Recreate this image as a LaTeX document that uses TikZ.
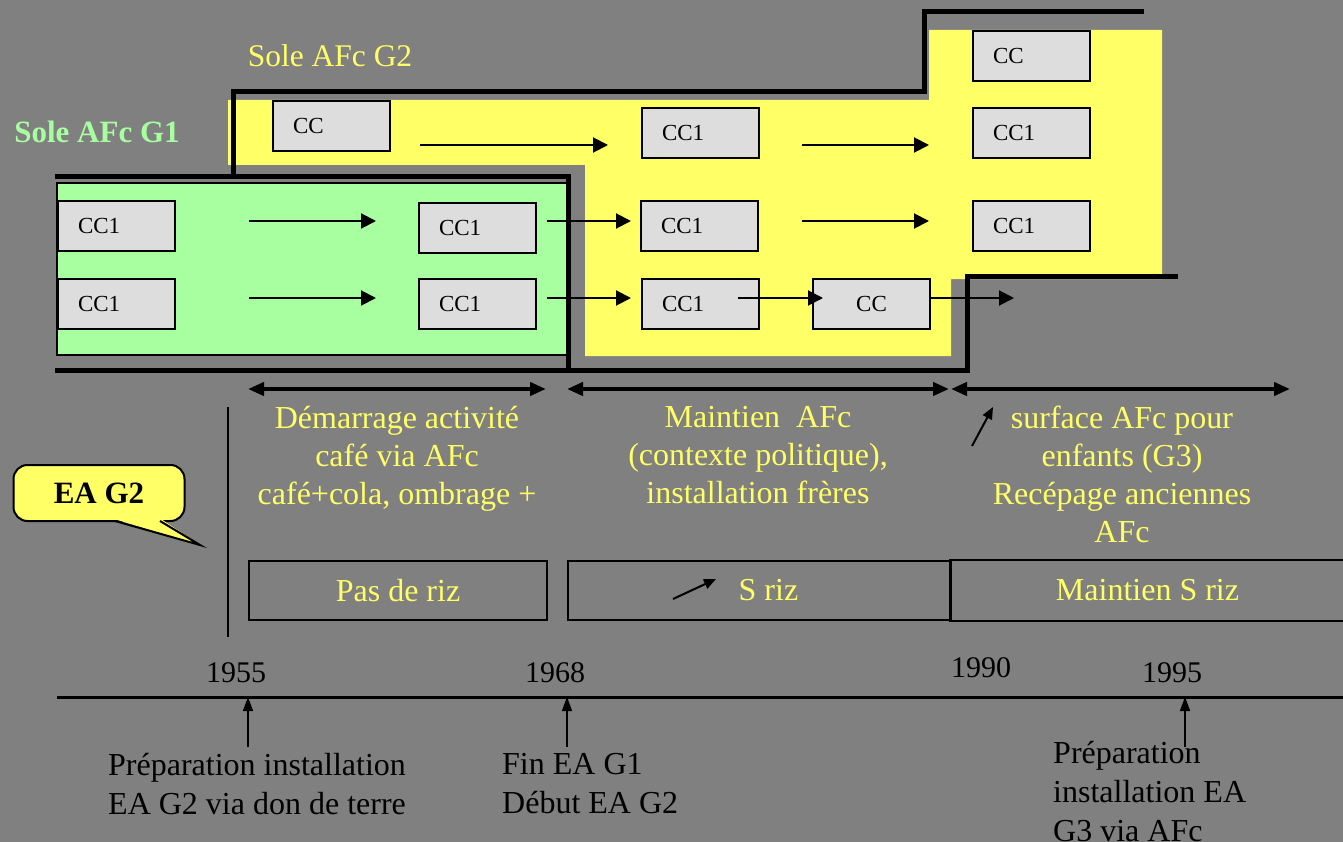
\documentclass[tikz,border=0pt]{standalone}
\usepackage{fontspec}
\setmainfont{Liberation Serif}
\usetikzlibrary{arrows.meta}
\definecolor{bgGray}{HTML}{808080}
\definecolor{soleYellow}{HTML}{FFFF66}
\definecolor{soleGreen}{HTML}{A8FFA0}
\definecolor{ccGray}{HTML}{DDDDDD}

\begin{document}
\begin{tikzpicture}[
    x=1pt, y=-1pt,
    ccbox/.style={rectangle, draw=black, line width=2pt, fill=ccGray,
                  minimum width=117pt, minimum height=50pt, text width=77pt,
                  inner xsep=20pt, align=left, anchor=north west,
                  font=\fontsize{23}{27}\selectfont},
    bound/.style={line width=5pt, line cap=rect},
    flowarr/.style={-{Triangle[length=15pt, width=15pt]}, line width=2pt},
    spanarr/.style={{Triangle[length=16pt, width=13pt]}-{Triangle[length=16pt, width=13pt]},
                    line width=4pt},
    uparr/.style={-{Triangle[length=14pt, width=10pt]}, line width=1.5pt},
    risearr/.style={-{Triangle[length=12pt, width=10pt]}, line width=2pt},
    periodtxt/.style={text=soleYellow, align=center, inner sep=0pt, anchor=north,
                      font=\fontsize{32}{38}\selectfont},
    notetxt/.style={text=black, align=left, inner sep=0pt, anchor=north west,
                    font=\fontsize{32}{39}\selectfont},
    yeartxt/.style={text=black, inner sep=0pt, anchor=base,
                    font=\fontsize{30}{36}\selectfont},
    rizbox/.style={rectangle, draw=black, line width=2pt, anchor=north west,
                   minimum height=59pt, text=soleYellow,
                   font=\fontsize{32}{38}\selectfont},
]
  \useasboundingbox (0,0) rectangle (1343,842);
  \fill[bgGray] (0,0) rectangle (1343,842);

  % Sole G2 (yellow) and sole G1 (green)
  \fill[soleYellow] (228,100) -- (929,100) -- (929,30) -- (1162,30) -- (1162,279)
    -- (951,279) -- (951,356) -- (585,356) -- (585,165) -- (228,165) -- cycle;
  \draw[fill=soleGreen, line width=1.5pt] (57,183) rectangle (567,355);

  % outlines of the soles
  \draw[bound] (57,177) -- (568,177) -- (568,370);
  \draw[bound] (57,370) -- (967,370) -- (967,276) -- (1175,276);
  \draw[bound] (233,177) -- (233,92) -- (924,92) -- (924,12) -- (1141,12);

  \node[text=soleYellow, anchor=base, font=\fontsize{31.5}{38}\selectfont] (titleG2) at (330,67) {Sole AFc G2};
  \node[text=soleGreen, anchor=base, font=\fontsize{31}{36}\selectfont\bfseries] (titleG1) at (97,143) {Sole AFc G1};

  % plots, row by row
  \node[ccbox] (a1) at (972,30)  {CC};

  \node[ccbox] (b1) at (272,100) {CC};
  \node[ccbox] (b2) at (641,107) {CC1};
  \node[ccbox] (b3) at (972,107) {CC1};

  \node[ccbox] (c1) at (57,200)  {CC1};
  \node[ccbox] (c2) at (418,202) {CC1};
  \node[ccbox] (c3) at (640,200) {CC1};
  \node[ccbox] (c4) at (972,200) {CC1};

  \node[ccbox] (d1) at (57,278)  {CC1};
  \node[ccbox] (d2) at (418,278) {CC1};
  \node[ccbox] (d3) at (641,278) {CC1};
  \node[ccbox, align=center, inner xsep=0pt, text width=117pt] (d4) at (812,278) {CC};

  \coordinate (rowB) at (0,145);
  \coordinate (rowC) at (0,221);
  \coordinate (rowD) at (0,298);
  \coordinate (dout) at (1014,298);

  \draw[flowarr, shorten <=29pt, shorten >=33pt] (b1.east |- rowB) -- (b2.west |- rowB);
  \draw[flowarr, shorten <=42pt, shorten >=43pt] (b2.east |- rowB) -- (b3.west |- rowB);

  \draw[flowarr, shorten <=73pt, shorten >=42pt] (c1.east |- rowC) -- (c2.west |- rowC);
  \draw[flowarr, shorten <=10pt, shorten >=9pt]  (c2.east |- rowC) -- (c3.west |- rowC);
  \draw[flowarr, shorten <=43pt, shorten >=43pt] (c3.east |- rowC) -- (c4.west |- rowC);

  \draw[flowarr, shorten <=73pt, shorten >=42pt] (d1.east |- rowD) -- (d2.west |- rowD);
  \draw[flowarr, shorten <=10pt, shorten >=10pt] (d2.east |- rowD) -- (d3.west |- rowD);
  \draw[flowarr, shorten <=-22pt, shorten >=-11pt] (d3.east |- rowD) -- (d4.west |- rowD);
  \draw[flowarr] (d4.east |- rowD) -- (dout);

  % periods
  \draw[spanarr] (248,389) -- (546,389);
  \draw[spanarr] (567,389) -- (949,389);
  \draw[spanarr] (951,389) -- (1290,389);

  \node[periodtxt] (per1) at (397,406) {Démarrage activité\\café via AFc\\café+cola, ombrage +};
  \node[periodtxt] (per2) at (758,406) {Maintien\ \ AFc\\(contexte politique),\\installation frères};
  \node[periodtxt] (per3) at (1122,406) {surface AFc pour\\enfants (G3)\\Recépage anciennes\\AFc};
  \draw[risearr] (972,446) -- (993,407);

  \draw[line width=2pt] (228,407) -- (228,637);

  % callout
  \node[rectangle, rounded corners=14pt, draw=black, line width=2pt, fill=soleYellow,
        minimum width=171pt, minimum height=56pt, font=\fontsize{31}{36}\selectfont\bfseries]
    (eaG2) at (99,493) {EA G2};
  \fill[soleYellow] (114,519) -- (200,545) -- (161,519) -- cycle;
  \draw[line width=2pt, line join=miter] (115,521) -- (200,545) -- (160,521);

  % rice
  \node[rizbox, minimum width=298pt] (riz1) at (248,560) {Pas de riz};
  \node[rizbox, minimum width=383pt] (riz2) at (567,560) {\hspace*{18pt}S riz};
  \node[rizbox, draw=none, minimum width=393pt] (riz3) at (950,560) {Maintien S riz};
  \draw[line width=2pt] (riz3.north east) -- (riz3.north west) -- (riz3.south west) -- (riz3.south east);
  \draw[risearr] (673,599) -- (716,579);

  % timeline
  \draw[line width=3pt] (57,697) -- (1343,697);
  \node[yeartxt] (y55) at (236,682) {1955};
  \node[yeartxt] (y68) at (555,682) {1968};
  \node[yeartxt] (y90) at (981,677) {1990};
  \node[yeartxt] (y95) at (1172,682) {1995};

  \coordinate (m55) at (248,697);
  \coordinate (m68) at (567,697);
  \coordinate (m95) at (1185,697);
  \draw[uparr] (248,747) -- (m55);
  \draw[uparr] (567,747) -- (m68);
  \draw[uparr] (1185,747) -- (m95);

  \node[notetxt] (note55) at (108,753) {Préparation installation\\EA G2 via don de terre};
  \node[notetxt] (note68) at (502,753) {Fin EA G1\\Début EA G2};
  \node[notetxt] (note95) at (1053,741) {Préparation\\installation EA\\G3 via AFc};
\end{tikzpicture}
\end{document}
